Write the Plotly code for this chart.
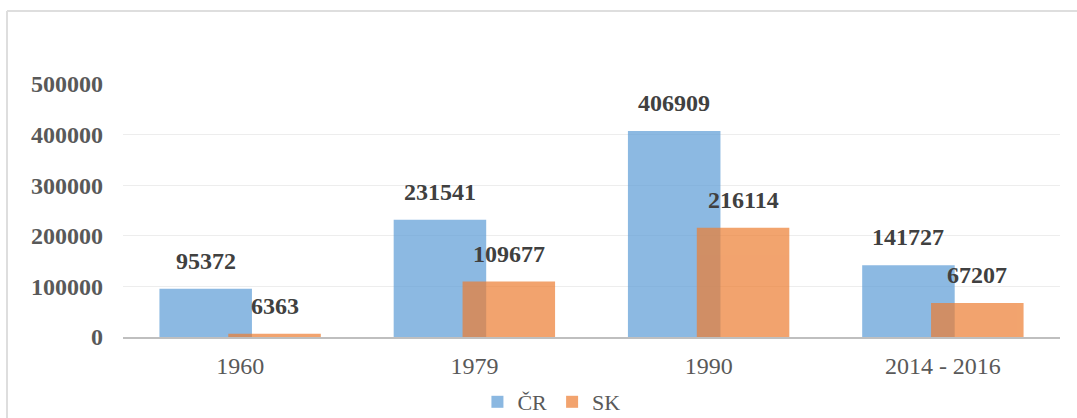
import plotly.graph_objects as go

categories = ["1960", "1979", "1990", "2014 - 2016"]
cr_values = [95372, 231541, 406909, 141727]
sk_values = [6363, 109677, 216114, 67207]
series_names = ["ČR", "SK"]
y_ticks = [0, 100000, 200000, 300000, 400000, 500000]

FONT = "Liberation Serif"
pos = list(range(len(categories)))
off = 0.147
bw = 0.395

fig = go.Figure()
fig.add_trace(go.Bar(
    x=[p - off for p in pos], y=cr_values, width=bw, name=series_names[0],
    marker=dict(color="#5B9BD5", line=dict(width=0)), opacity=0.7,
))
fig.add_trace(go.Bar(
    x=[p + off for p in pos], y=sk_values, width=bw, name=series_names[1],
    marker=dict(color="#ED7D31", line=dict(width=0)), opacity=0.7,
))

annotations = []
for vals, sh in ((cr_values, -off), (sk_values, off)):
    for p, v in zip(pos, vals):
        annotations.append(dict(
            x=p + sh, y=v, xref="x", yref="y", text=str(v), showarrow=False,
            yanchor="bottom", yshift=13,
            font=dict(family=FONT, size=24, color="#404040", weight="bold"),
        ))

L, R, T, B = 123, 17, 84, 81
pw = 1077 - L - R
ph = 418 - T - B
bx = (7 - L) / pw
by = (337 - 11) / ph
shapes = [
    dict(type="line", xref="paper", yref="paper", x0=bx, x1=1.1, y0=by, y1=by,
         line=dict(color="#DEDEDE", width=2)),
    dict(type="line", xref="paper", yref="paper", x0=bx, x1=bx, y0=by, y1=-0.5,
         line=dict(color="#DEDEDE", width=2)),
]

fig.update_layout(
    width=1077, height=418,
    margin=dict(l=L, r=R, t=T, b=B, autoexpand=False),
    barmode="overlay",
    plot_bgcolor="white", paper_bgcolor="white",
    font=dict(family=FONT, color="#595959"),
    showlegend=True,
    legend=dict(orientation="h", xref="container", yref="container",
                x=0.512, xanchor="center", y=1 - 402 / 418, yanchor="middle",
                font=dict(family=FONT, size=22, color="#595959"),
                itemwidth=30, tracegroupgap=0, bgcolor="rgba(0,0,0,0)"),
    annotations=annotations,
    shapes=shapes,
    xaxis=dict(
        range=[-0.5, len(categories) - 0.5],
        tickvals=pos, ticktext=categories,
        tickfont=dict(family=FONT, size=24, color="#595959"),
        showgrid=False, zeroline=False,
        showline=True, linecolor="#BFBFBF", linewidth=2,
        ticks="", ticklabelstandoff=6,
    ),
    yaxis=dict(
        range=[0, 500000],
        tickvals=y_ticks, ticktext=[str(t) for t in y_ticks],
        tickfont=dict(family=FONT, size=24, color="#595959", weight="bold"),
        showgrid=True, gridcolor="#EDEDED", gridwidth=1,
        zeroline=False, showline=False, ticks="", ticklabelstandoff=19,
    ),
)

fig.write_html(
    "out.html",
    config={"displayModeBar": False},
    post_script="document.body.style.margin='0';document.body.style.overflow='hidden';",
)
